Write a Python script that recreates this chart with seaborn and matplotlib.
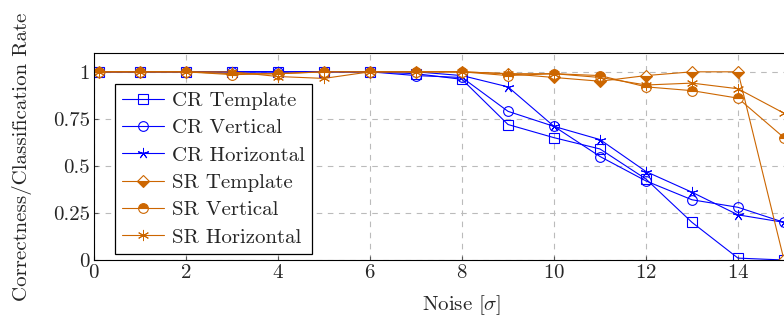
import seaborn as sns
import matplotlib.pyplot as plt
import pandas as pd

# noise levels (sigma)
noise = [0.1, 1, 2, 3, 4, 5, 6, 7, 8, 9, 10, 11, 12, 13, 14, 15]

cr_template = [1, 1, 1, 1, 1, 1, 1, 0.99, 0.96, 0.72, 0.65, 0.59, 0.43, 0.20, 0.01, 0.0]
cr_vertical = [1, 1, 1, 1, 1, 1, 1, 0.98, 0.97, 0.79, 0.71, 0.55, 0.42, 0.32, 0.28, 0.20]
cr_horizontal = [1, 1, 1, 1, 1, 1, 1, 1, 0.98, 0.92, 0.71, 0.64, 0.47, 0.36, 0.24, 0.20]
sr_template = [1, 1, 1, 0.99, 0.99, 1, 1, 1, 1, 0.99, 0.97, 0.95, 0.98, 1, 1, 0.0]
sr_vertical = [1, 1, 1, 0.985, 0.99, 1, 1, 1, 1, 0.98, 0.99, 0.98, 0.92, 0.90, 0.86, 0.65]
sr_horizontal = [1, 1, 1, 1, 0.975, 0.965, 1, 1, 1, 0.99, 0.99, 0.97, 0.93, 0.94, 0.91, 0.78]

series = {
    'CR Template': cr_template,
    'CR Vertical': cr_vertical,
    'CR Horizontal': cr_horizontal,
    'SR Template': sr_template,
    'SR Vertical': sr_vertical,
    'SR Horizontal': sr_horizontal,
}

blue = '#0000FF'
orange = '#CC6600'

# marker styles for each series
styles = {
    'CR Template': dict(color=blue, marker='s', markerfacecolor='none'),
    'CR Vertical': dict(color=blue, marker='o', markerfacecolor='none'),
    'CR Horizontal': dict(color=blue, marker=(5, 2, 0), markersize=8, markeredgewidth=0.7),
    'SR Template': dict(color=orange, marker='D', fillstyle='bottom', markerfacecolor=orange,
                        markerfacecoloralt='white', markersize=6),
    'SR Vertical': dict(color=orange, marker='o', fillstyle='top', markerfacecolor=orange,
                        markerfacecoloralt='white'),
    'SR Horizontal': dict(color=orange, marker=(6, 2, 0), markersize=8, markeredgewidth=0.7),
}

sns.set_style('ticks')
plt.rcParams['font.family'] = 'serif'
plt.rcParams['font.serif'] = ['cmr10', 'DejaVu Serif']
plt.rcParams['mathtext.fontset'] = 'cm'
plt.rcParams['axes.formatter.use_mathtext'] = True

fig = plt.figure(figsize=(7.84, 3.22), dpi=100)
ax = fig.add_axes([94 / 784, 62 / 322, 736 / 784, 207 / 322])

for name, vals in series.items():
    df = pd.DataFrame({'noise': noise, 'rate': vals})
    st = styles[name]
    kw = dict(markersize=7, markeredgewidth=0.8, linewidth=0.8, markeredgecolor=st['color'])
    kw.update(st)
    sns.lineplot(data=df, x='noise', y='rate', ax=ax, label=name, **kw)

ax.set_xlim(0, 16)
ax.set_ylim(0, 1.1)
ax.set_xticks([0, 2, 4, 6, 8, 10, 12, 14])
ax.set_yticks([0, 0.25, 0.5, 0.75, 1], ['0', '0.25', '0.5', '0.75', '1'])
ax.tick_params(direction='in', labelsize=15, length=3, color='#555555', pad=3)
ax.grid(True, linestyle=(0, (5, 5)), color='#bbbbbb', linewidth=0.8)
for sp in ax.spines.values():
    sp.set_color('black')
    sp.set_linewidth(0.8)

ax.set_xlabel(r'Noise [$\sigma$]', fontsize=15, labelpad=8)
ax.set_ylabel('Correctness/Classification Rate', fontsize=15, labelpad=15)

leg = ax.legend(loc='upper left', bbox_to_anchor=(0.0285, 0.85), borderaxespad=0,
                fontsize=15, frameon=True, fancybox=False, edgecolor='black',
                framealpha=1, labelspacing=0.42, handlelength=2.0, borderpad=0.35,
                handletextpad=0.4)
leg.get_frame().set_linewidth(0.9)

fig.savefig('out.png', dpi=100)
